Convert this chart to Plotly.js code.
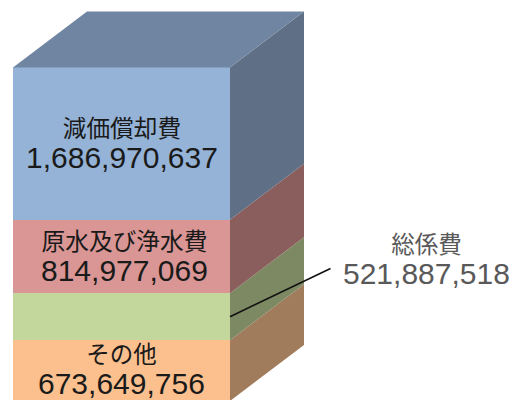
<!DOCTYPE html>
<html><head><meta charset="utf-8">
<script src="https://cdn.plot.ly/plotly-3.0.1.min.js"></script>
<style>html,body{margin:0;padding:0;background:#fff}</style></head>
<body><div id="c" style="width:515px;height:400px"></div>
<script>
// bottom to top
const categories = ["その他","総係費","原水及び浄水費","減価償却費"];
const values = [673649756,521887518,814977069,1686970637];
const frontColors = ["#FBC08E","#C3D69B","#D99694","#95B3D7"];
const sideColors = ["#A07B5C","#7D8963","#8A5E5D","#5F7086"];
const topColor = "#7085A1";
const labelShiftX = [0,0,3,0];
const labelShiftY = [0,0,-2,-1];

const W=515,H=400, left=13, barW=217, depthX=74, depthY=56, k=0.0902e-6, basePx=401;
const dx=depthX/barW, dy=depthY/k;
const FONT='"Liberation Sans","Noto Sans CJK JP",sans-serif';
const fmt=v=>v.toLocaleString('en-US');

let traces=[], annotations=[], cum=0;
const x0=-0.5,x1=0.5;
values.forEach((v,i)=>{
  traces.push({type:'bar',x:[0],y:[v],width:[1],marker:{color:frontColors[i],line:{width:0}},hoverinfo:'skip',showlegend:false});
});
values.forEach((v,i)=>{
  const a=cum,b=cum+v;
  traces.push({type:'scatter',mode:'lines',x:[x1,x1+dx,x1+dx,x1,x1],y:[a,a+dy,b+dy,b,a],fill:'toself',fillcolor:sideColors[i],line:{width:0},hoverinfo:'skip',showlegend:false});
  const mid=(a+b)/2;
  const label=categories[i]+'<br>'+'<span style="font-size:30px">'+fmt(v)+'</span>';
  if(i!==1){
    annotations.push({x:0,y:mid,xref:'x',yref:'y',xshift:labelShiftX[i],yshift:labelShiftY[i],showarrow:false,align:'center',
      text:label,font:{family:FONT,size:i===0?23.5:23.7,color:'#1a1a1a'}});
  } else {
    annotations.push({x:x1,y:mid,xref:'x',yref:'y',ax:102,ay:-49,axref:'pixel',ayref:'pixel',text:'',showarrow:true,arrowhead:0,arrowwidth:1.6,arrowcolor:'#111',standoff:0,startstandoff:0});
    annotations.push({x:(426-left)/barW-0.5,y:mid,xref:'x',yref:'y',yshift:56,showarrow:false,align:'center',
      text:label,font:{family:FONT,size:23.5,color:'#595959'}});
  }
  cum=b;
});
traces.push({type:'scatter',mode:'lines',x:[x0,x0+dx,x1+dx,x1,x0],y:[cum,cum+dy,cum+dy,cum,cum],fill:'toself',fillcolor:topColor,line:{width:0},hoverinfo:'skip',showlegend:false});

Plotly.newPlot('c',traces,{
  width:W,height:H,margin:{l:0,r:0,t:0,b:0},barmode:'stack',showlegend:false,
  paper_bgcolor:'#fff',plot_bgcolor:'#fff',
  xaxis:{range:[x0-left/barW,x0+(W-left)/barW],visible:false,fixedrange:true},
  yaxis:{range:[(basePx-H)/k,basePx/k],visible:false,fixedrange:true},
  annotations
},{displayModeBar:false,staticPlot:true});
</script></body></html>
